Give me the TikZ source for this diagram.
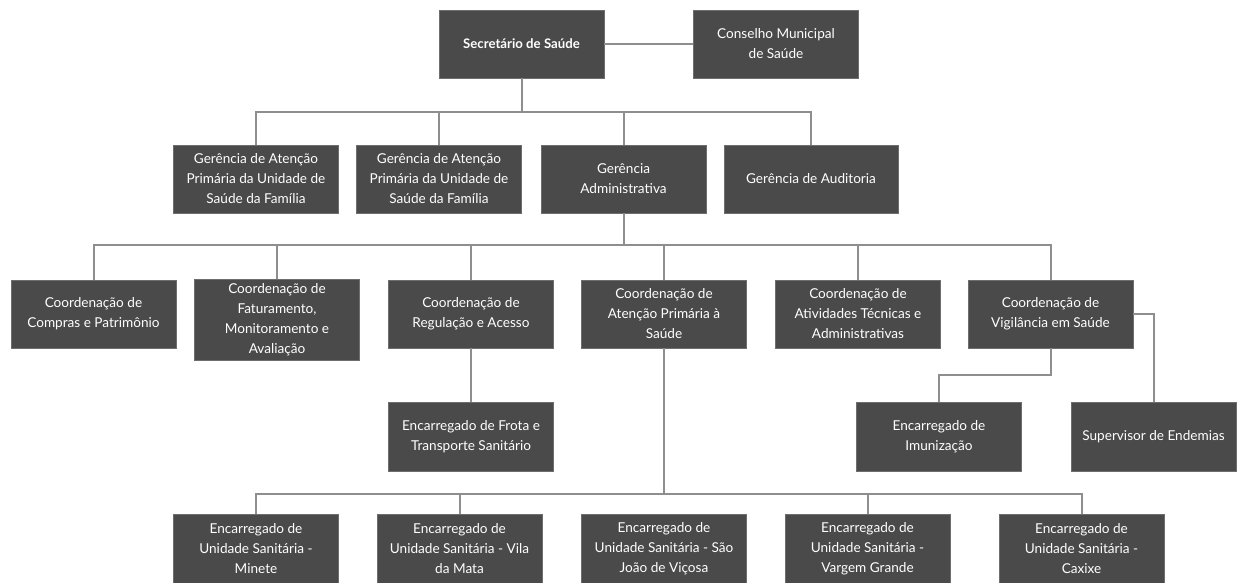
\documentclass[tikz,border=0pt]{standalone}
\usepackage{fontspec}
\setmainfont{Lato}
\definecolor{boxfill}{HTML}{4A4A4A}
\definecolor{linegray}{HTML}{8E8E8E}
\begin{document}
\begin{tikzpicture}[x=1pt,y=-1pt,
  box/.style={draw=boxfill!80!white,line width=0.6pt,fill=boxfill,text=white,rectangle,
    minimum width=165pt,minimum height=68pt,inner sep=0pt,align=center,
    font=\fontsize{13.6}{20}\selectfont},
  conn/.style={draw=linegray,line width=2pt}]
\useasboundingbox (0,0) rectangle (1241,583);
% level 1
\node[box,font=\fontsize{13.2}{20}\selectfont\bfseries] (sec) at (521.5,44) {Secretário de Saúde};
\node[box] (cons) at (776,44) {Conselho Municipal\\de Saúde};
% level 2
\node[box] (g1) at (256,179) {Gerência de Atenção\\Primária da Unidade de\\Saúde da Família};
\node[box] (g2) at (439,179) {Gerência de Atenção\\Primária da Unidade de\\Saúde da Família};
\node[box] (g3) at (623.5,179) {Gerência\\Administrativa};
\node[box,minimum width=174pt] (g4) at (811,179) {Gerência de Auditoria};
% level 3
\node[box] (c1) at (93.5,314) {Coordenação de\\Compras e Patrimônio};
\node[box,minimum height=81pt] (c2) at (277,319.5) {Coordenação de\\Faturamento,\\Monitoramento e\\Avaliação};
\node[box] (c3) at (471,314) {Coordenação de\\Regulação e Acesso};
\node[box] (c4) at (664,314) {Coordenação de\\Atenção Primária à\\Saúde};
\node[box] (c5) at (858,314) {Coordenação de\\Atividades Técnicas e\\Administrativas};
\node[box] (c6) at (1050.5,314) {Coordenação de\\Vigilância em Saúde};
% level 4
\node[box,minimum height=69pt] (frota) at (471,436.5) {Encarregado de Frota e\\Transporte Sanitário};
\node[box,minimum height=69pt] (imu) at (939,436.5) {Encarregado de\\Imunização};
\node[box,minimum height=69pt] (sup) at (1153.5,436.5) {Supervisor de Endemias};
% level 5
\node[box,minimum height=70pt] (u1) at (256,549) {Encarregado de\\Unidade Sanitária -\\Minete};
\node[box,minimum height=70pt] (u2) at (459.5,549) {Encarregado de\\Unidade Sanitária - Vila\\da Mata};
\node[box,minimum height=70pt] (u3) at (664,549) {Encarregado de\\Unidade Sanitária - São\\João de Viçosa};
\node[box,minimum height=70pt] (u4) at (867.5,549) {Encarregado de\\Unidade Sanitária -\\Vargem Grande};
\node[box,minimum height=70pt] (u5) at (1081.5,549) {Encarregado de\\Unidade Sanitária -\\Caxixe};
% connectors
\draw[conn] (sec.east) -- (cons.west);
\coordinate (bus1) at (521.5,112);
\draw[conn] (sec.south) -- (bus1);
\draw[conn] (g1.north) |- (bus1) -| (g4.north);
\draw[conn] (g2.north) -- (g2.north |- bus1);
\draw[conn] (g3.north) -- (g3.north |- bus1);
\coordinate (bus2) at (623.5,245);
\draw[conn] (g3.south) -- (bus2);
\draw[conn] (c1.north) |- (bus2) -| (c6.north);
\draw[conn] (c2.north) -- (c2.north |- bus2);
\draw[conn] (c3.north) -- (c3.north |- bus2);
\draw[conn] (c4.north) -- (c4.north |- bus2);
\draw[conn] (c5.north) -- (c5.north |- bus2);
\draw[conn] (c3.south) -- (frota.north);
\coordinate (bus4) at (1050.5,375);
\draw[conn] (c6.south) -- (bus4) -| (imu.north);
\draw[conn] (c6.east) -| (sup.north);
\coordinate (bus5) at (664,494);
\draw[conn] (c4.south) -- (bus5);
\draw[conn] (u1.north) |- (bus5) -| (u5.north);
\draw[conn] (u2.north) -- (u2.north |- bus5);
\draw[conn] (u4.north) -- (u4.north |- bus5);
\end{tikzpicture}
\end{document}
